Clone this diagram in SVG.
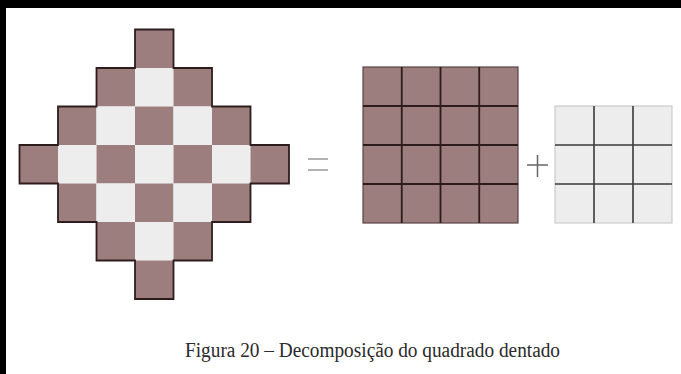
<svg xmlns="http://www.w3.org/2000/svg" width="681" height="374" viewBox="0 0 681 374">
<style>
.b{fill:#9b7e7d}
.l{fill:#ededed}
.gd{stroke:#2e1c1c;stroke-width:1.8;fill:none}
.gl{stroke:#3a3a3a;stroke-width:1.6;fill:none}
.op{stroke:#999;stroke-width:1.4;fill:none}
.cap{font-family:"Liberation Serif","DejaVu Serif",serif;font-size:20px;fill:#2a2a2a}
</style>
<rect x="0" y="0" width="681" height="374" fill="#ffffff"/>
<rect x="0" y="0" width="681" height="8" fill="#000"/>
<rect x="0" y="0" width="6" height="374" fill="#000"/>
<g id="diamond">
<rect class="b" x="135" y="29.5" width="38.5" height="38.5"/>
<rect class="b" x="96.5" y="68" width="38.5" height="38.5"/>
<rect class="l" x="135" y="68" width="38.5" height="38.5"/>
<rect class="b" x="173.5" y="68" width="38.5" height="38.5"/>
<rect class="b" x="58" y="106.5" width="38.5" height="38.5"/>
<rect class="l" x="96.5" y="106.5" width="38.5" height="38.5"/>
<rect class="b" x="135" y="106.5" width="38.5" height="38.5"/>
<rect class="l" x="173.5" y="106.5" width="38.5" height="38.5"/>
<rect class="b" x="212" y="106.5" width="38.5" height="38.5"/>
<rect class="b" x="19.5" y="145" width="38.5" height="38.5"/>
<rect class="l" x="58" y="145" width="38.5" height="38.5"/>
<rect class="b" x="96.5" y="145" width="38.5" height="38.5"/>
<rect class="l" x="135" y="145" width="38.5" height="38.5"/>
<rect class="b" x="173.5" y="145" width="38.5" height="38.5"/>
<rect class="l" x="212" y="145" width="38.5" height="38.5"/>
<rect class="b" x="250.5" y="145" width="38.5" height="38.5"/>
<rect class="b" x="58" y="183.5" width="38.5" height="38.5"/>
<rect class="l" x="96.5" y="183.5" width="38.5" height="38.5"/>
<rect class="b" x="135" y="183.5" width="38.5" height="38.5"/>
<rect class="l" x="173.5" y="183.5" width="38.5" height="38.5"/>
<rect class="b" x="212" y="183.5" width="38.5" height="38.5"/>
<rect class="b" x="96.5" y="222" width="38.5" height="38.5"/>
<rect class="l" x="135" y="222" width="38.5" height="38.5"/>
<rect class="b" x="173.5" y="222" width="38.5" height="38.5"/>
<rect class="b" x="135" y="260.5" width="38.5" height="38.5"/>
<path class="gd" d="M135 29.5H173.5V68H212V106.5H250.5V145H289V183.5H250.5V222H212V260.5H173.5V299H135V260.5H96.5V222H58V183.5H19.5V145H58V106.5H96.5V68H135Z"/>
</g>
<g id="equals">
<path class="op" d="M308 159H328M308 170H328"/>
</g>
<g id="square4">
<rect class="b" x="363" y="67" width="155" height="156"/>
<rect x="363" y="67" width="155" height="156" fill="none" stroke="#5a4444" stroke-width="1.2"/>
<path class="gd" d="M401.75 67V223M440.5 67V223M479.25 67V223M363 106H518M363 145H518M363 184H518"/>
</g>
<g id="plus">
<path stroke="#666" stroke-width="1.5" fill="none" d="M527 165H548M537.5 155V177"/>
</g>
<g id="square3">
<rect class="l" x="555" y="106" width="117" height="117" stroke="#c4c4c4" stroke-width="1"/>
<path class="gl" d="M594 106V223M633 106V223M555 145H672M555 184H672"/>
</g>
<text class="cap" x="185" y="357" textLength="375" lengthAdjust="spacingAndGlyphs">Figura 20 – Decomposição do quadrado dentado</text>
</svg>
